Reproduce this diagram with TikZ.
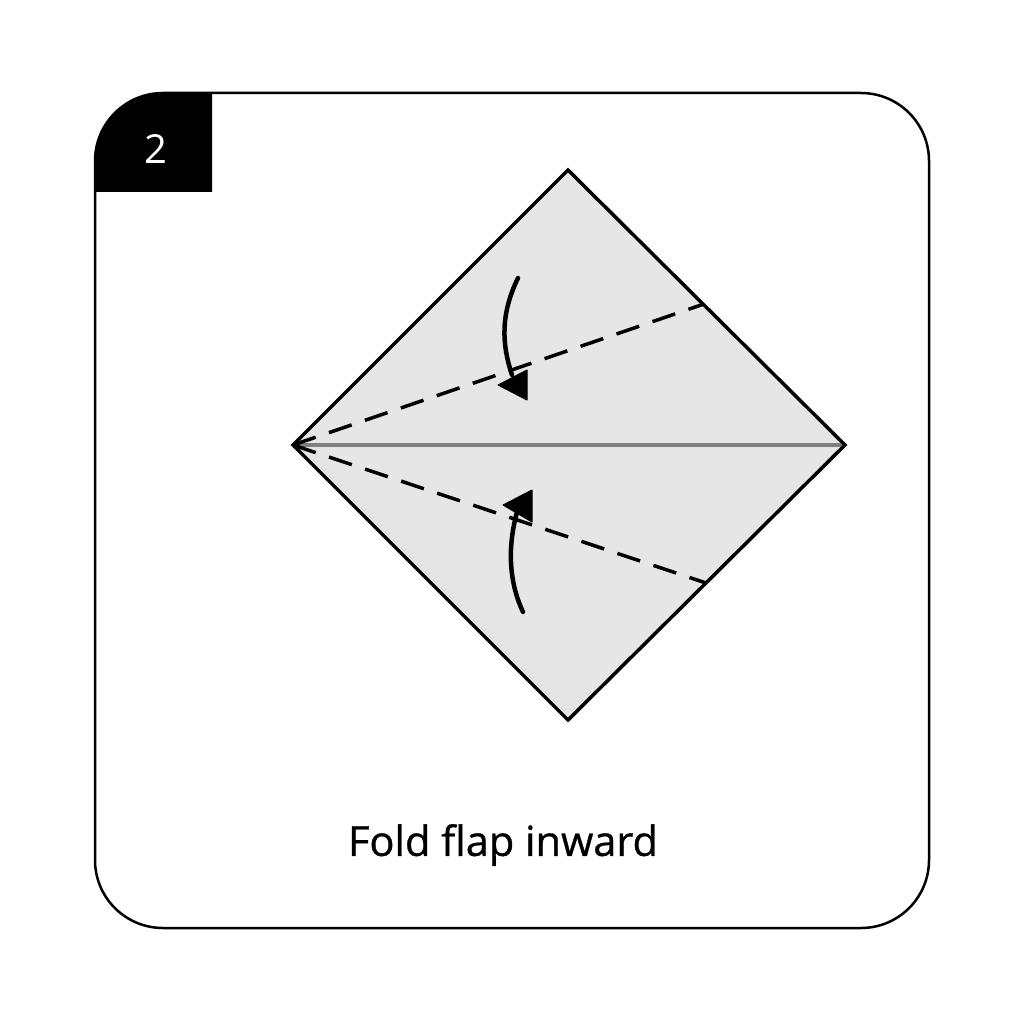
\documentclass[tikz,border=0pt]{standalone}
\usepackage{fontspec}
\setmainfont{Open Sans}
\newfontfamily\capfont{Open Sans}[FakeBold=0.8]
\definecolor{paper}{RGB}{230,230,230}
\definecolor{crease}{RGB}{128,128,128}
\tikzset{
  edgeline/.style={line width=3.5pt, line join=miter},
  valley/.style={line width=3.5pt, dash pattern=on 24pt off 14pt},
  curvearrow/.style={line width=4.5pt, line cap=round},
  headtri/.style={fill=black, draw=black, line width=1pt, line join=round},
}
\begin{document}
\begin{tikzpicture}[x=1pt,y=-1pt]
\useasboundingbox (0,0) rectangle (1024,1024);
% frame
\draw[line width=2.5pt, rounded corners=68pt] (95,93) rectangle (929,928);
% tab
\fill[black] (212,93) -- (163,93) arc[start angle=270, end angle=180, radius=68] -- (95,192) -- (212,192) -- cycle;
\node[text=white, font=\fontsize{40}{42}\selectfont] (num) at (156,149) {2};
% diamond
\coordinate (T) at (568,170);
\coordinate (L) at (293,445);
\coordinate (R) at (845,445);
\coordinate (B) at (568,720);
\fill[paper] (T) -- (R) -- (B) -- (L) -- cycle;
\draw[crease, line width=3.5pt] (L) -- (R);
\coordinate (UE) at (704,304);
\coordinate (LE) at (706,583);
\draw[valley] (L) -- (UE);
\draw[valley] (L) -- (LE);
\draw[edgeline] (T) -- (R) -- (B) -- (L) -- cycle;
% upper arrow
\draw[curvearrow] (518,278) .. controls (500,315) and (502,345) .. (512,375);
\filldraw[headtri] (498,385) -- (527,370) -- (527,400) -- cycle;
% lower arrow
\draw[curvearrow] (523,612) .. controls (508,580) and (508,545) .. (517,512);
\filldraw[headtri] (503,505) -- (532,490) -- (532,522) -- cycle;
% caption
\node[font=\capfont\fontsize{41.5}{44}\selectfont] (cap) at (503,845) {Fold flap inward};
\end{tikzpicture}
\end{document}
